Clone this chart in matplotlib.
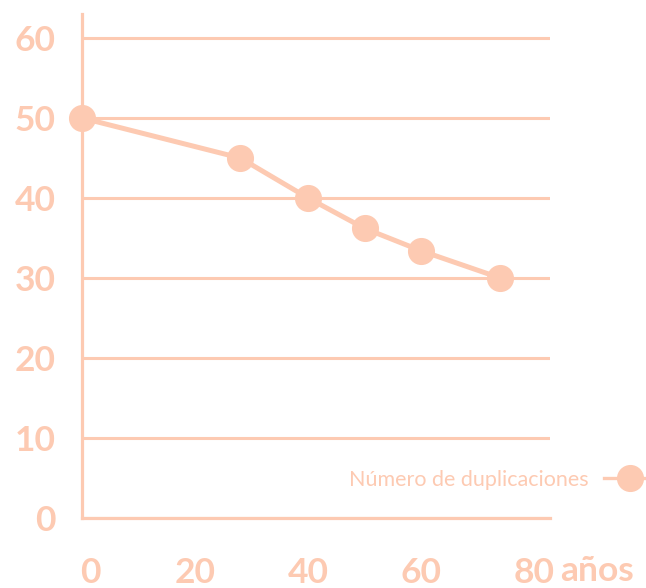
import matplotlib
matplotlib.use("Agg")
import matplotlib.pyplot as plt
from matplotlib.transforms import ScaledTranslation

# datos
edad = [0, 28, 40, 50, 60, 74]
duplicaciones = [50, 45, 40, 36.2, 33.4, 30]
x_ticks = [0, 20, 40, 60, 80]
x_labels = ["0", "20", "40", "60", "80"]
y_ticks = [0, 10, 20, 30, 40, 50, 60]
serie = "Número de duplicaciones"

color = "#FDCAB2"
plt.rcParams["font.family"] = ["Lato", "DejaVu Sans"]

fig = plt.figure(figsize=(6.46, 5.88), dpi=100)
ax = fig.add_axes([82 / 646, 1 - 518 / 588, 468 / 646, 504 / 588])

ax.plot(edad, duplicaciones, color=color, lw=3.6, marker="o", ms=18.5,
        clip_on=False, zorder=5, label=serie)

ax.set_xlim(0, 82.8)
ax.set_ylim(0, 63)

ax.set_yticks(y_ticks)
ax.set_yticklabels([str(v) for v in y_ticks])
ax.set_xticks(x_ticks)
ax.set_xticklabels(x_labels)
ax.grid(axis="y", color=color, lw=2.2)
ax.set_axisbelow(True)

for s in ["top", "right"]:
    ax.spines[s].set_visible(False)
for s in ["left", "bottom"]:
    ax.spines[s].set_color(color)
    ax.spines[s].set_linewidth(2.3)

ax.tick_params(length=0, colors=color, labelsize=25.5)
ax.tick_params(axis="y", pad=19)
ax.tick_params(axis="x", pad=28)
for t in ax.get_yticklabels() + ax.get_xticklabels():
    t.set_fontweight("bold")
# el "0" del eje x va un poco a la derecha
lbl0 = ax.get_xticklabels()[0]
lbl0.set_transform(lbl0.get_transform() + ScaledTranslation(8 / 100, 0, fig.dpi_scale_trans))

ax.annotate("años", xy=(80, 0), xytext=(19, -38), textcoords="offset points",
            xycoords="data", color=color, fontsize=25.5, fontweight="bold",
            ha="left", va="center", annotation_clip=False)

leg = ax.legend(loc="center right", bbox_to_anchor=(656 / 646, 1 - 480 / 588),
                bbox_transform=fig.transFigure, frameon=False, borderpad=0,
                borderaxespad=0, markerfirst=False, handlelength=2.4,
                handletextpad=0.75, prop={"size": 15.5})
for t in leg.get_texts():
    t.set_color(color)
leg.get_lines()[0].set_linewidth(2.4)

fig.savefig("out.png", dpi=100)
